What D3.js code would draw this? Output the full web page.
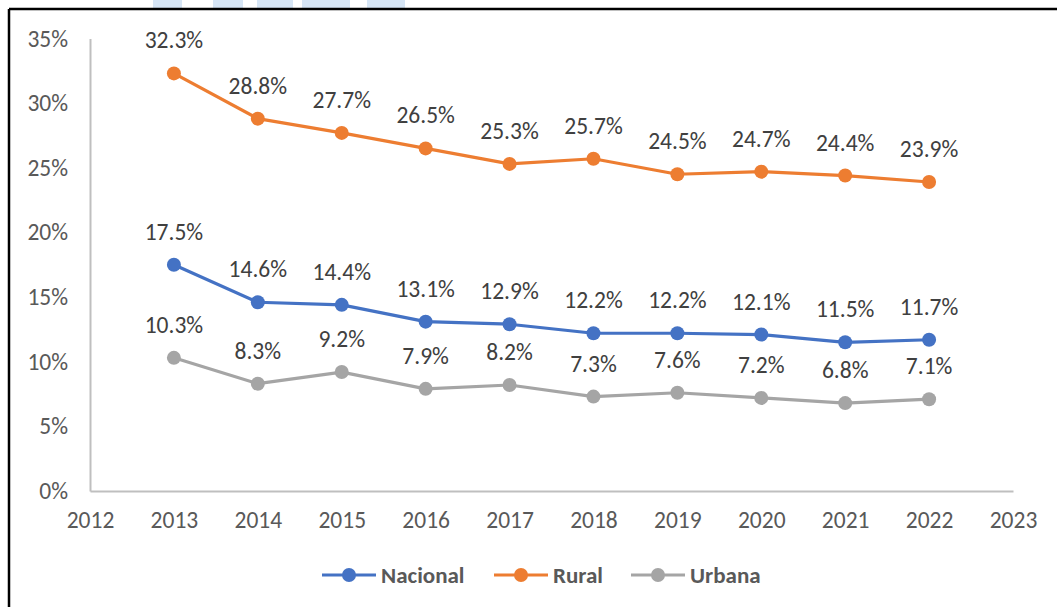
<!DOCTYPE html>
<html><head><meta charset="utf-8">
<script src="https://cdn.jsdelivr.net/npm/d3@7"></script>
<style>body{margin:0;background:#fff}svg{display:block}</style>
</head><body><svg id="c" width="1057" height="607"></svg>
<script>
const years = [2013,2014,2015,2016,2017,2018,2019,2020,2021,2022];
const nacional = [17.5,14.6,14.4,13.1,12.9,12.2,12.2,12.1,11.5,11.7];
const rural = [32.3,28.8,27.7,26.5,25.3,25.7,24.5,24.7,24.4,23.9];
const urbana = [10.3,8.3,9.2,7.9,8.2,7.3,7.6,7.2,6.8,7.1];
const yTicks = [0,5,10,15,20,25,30,35];
const xTicks = [2012,2013,2014,2015,2016,2017,2018,2019,2020,2021,2022,2023];
const seriesNames = ["Nacional","Rural","Urbana"];
const colors = ["#4472C4","#ED7D31","#A5A5A5"];

const svg = d3.select("#c");
const font = "Carlito, Lato, sans-serif";
const fs = 23.5;
const x = d3.scaleLinear().domain([2012,2023]).range([90,1013]);
const y = d3.scaleLinear().domain([0,35]).range([491,38.5]);

// watermark fragments
const wm = [[153,182],[213,243],[257,293],[302,350],[367,405]];
svg.selectAll("rect.wm").data(wm).enter().append("rect")
  .attr("x",d=>d[0]).attr("y",0).attr("width",d=>d[1]-d[0]).attr("height",8).attr("fill","#d6e5f5");

// border
svg.append("line").attr("x1",9).attr("x2",1057).attr("y1",9).attr("y2",9).attr("stroke","#000").attr("stroke-width",2.5);
svg.append("line").attr("x1",9).attr("x2",9).attr("y1",9).attr("y2",607).attr("stroke","#000").attr("stroke-width",2.5);

// axes
const yAxis = d3.axisLeft(y).tickValues(yTicks).tickSize(0).tickPadding(22).tickFormat(d=>d+"%");
const gy = svg.append("g").attr("transform","translate(90,0)").call(yAxis);
gy.select(".domain").attr("stroke","#BFBFBF").attr("stroke-width",2);
gy.selectAll("text").attr("font-family",font).attr("font-size",fs).attr("fill","#595959");

const xAxis = d3.axisBottom(x).tickValues(xTicks).tickSize(0).tickPadding(20).tickFormat(d3.format("d"));
const gx = svg.append("g").attr("transform","translate(0,491)").call(xAxis);
gx.select(".domain").attr("stroke","#BFBFBF").attr("stroke-width",2);
gx.selectAll("text").attr("font-family",font).attr("font-size",fs).attr("fill","#595959");

const data = [nacional, rural, urbana];
const line = d3.line().x((d,i)=>x(years[i])).y(d=>y(d));
data.forEach((vals,k)=>{
  const g = svg.append("g");
  g.append("path").datum(vals).attr("d",line).attr("fill","none").attr("stroke",colors[k]).attr("stroke-width",3.2).attr("stroke-linejoin","round");
  g.selectAll("circle").data(vals).enter().append("circle")
    .attr("cx",(d,i)=>x(years[i])).attr("cy",d=>y(d)).attr("r",7).attr("fill",colors[k]);
  g.selectAll("text").data(vals).enter().append("text")
    .attr("x",(d,i)=>x(years[i])).attr("y",d=>y(d)-25)
    .attr("text-anchor","middle").attr("font-family",font).attr("font-size",fs).attr("fill","#404040")
    .text(d=>d.toFixed(1)+"%");
});

// legend
const legX = [322,494,631];
seriesNames.forEach((n,k)=>{
  const g = svg.append("g");
  g.append("line").attr("x1",legX[k]).attr("x2",legX[k]+54).attr("y1",575).attr("y2",575).attr("stroke",colors[k]).attr("stroke-width",3.2);
  g.append("circle").attr("cx",legX[k]+27).attr("cy",575).attr("r",7).attr("fill",colors[k]);
  g.append("text").attr("x",legX[k]+59).attr("y",575).attr("dy","0.35em").attr("font-family",font).attr("font-size",fs-0.5).attr("font-weight","bold").attr("fill","#595959").text(n);
});
</script></body></html>
